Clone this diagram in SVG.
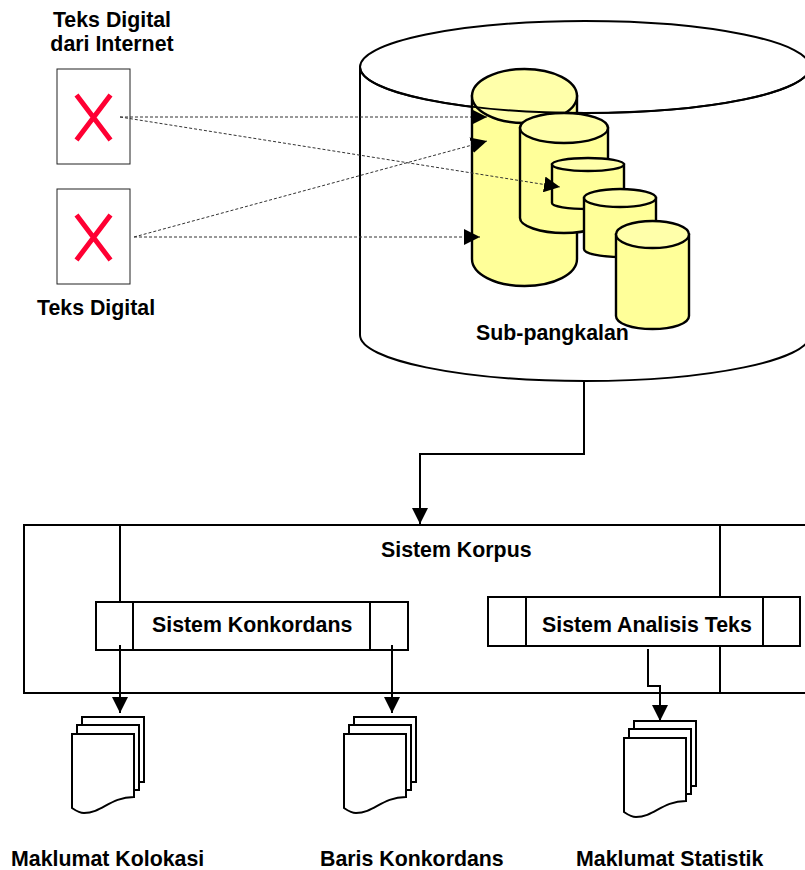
<svg xmlns="http://www.w3.org/2000/svg" width="805" height="870" viewBox="0 0 805 870">
<style>
text{font-family:"Liberation Sans",Arial,sans-serif;font-weight:700;font-size:21.33px;fill:#000}
.s{fill:none;stroke:#000;stroke-width:2}
.w{fill:#fff;stroke:#000;stroke-width:2}
.c{fill:#ffff99;stroke:#000;stroke-width:2.4}
.t{fill:#ffffaa;stroke:#000;stroke-width:2.4}
.d{fill:none;stroke:#333;stroke-width:1;stroke-dasharray:3 2}
.x{fill:none;stroke:#ff0033;stroke-width:5}
.l{fill:none;stroke:#000;stroke-width:2}
</style>
<defs>
<marker id="a" markerUnits="userSpaceOnUse" markerWidth="16" markerHeight="16" refX="16" refY="8" orient="auto"><path d="M0 0L16 8L0 16Z" fill="#000"/></marker>
<g id="stack">
<path class="w" d="M10 0H72V65H10Z" transform="translate(0,-17)"/>
<path class="w" d="M5 -9H67V56H5Z"/>
<path class="w" d="M0 0H62V63C38 63 30 79 12 79C7 79 3 76 0 74Z"/>
</g>
</defs>
<g id="database">
<path class="w" d="M360 67V335C360 360 461 381 585 381C709 381 810 360 810 335V67Z"/>
<ellipse class="w" cx="585" cy="67" rx="225" ry="46"/>
</g>
<g id="sub1">
<path class="c" d="M472 96V259C472 274 495 286 524.500 286C554 286 577 274 577 259V96Z"/>
<ellipse class="t" cx="524.500" cy="96" rx="52.500" ry="27"/>
</g>
<path id="rim" class="s" d="M360 67C360 92 461 113 585 113C709 113 810 92 810 67"/>
<g id="sub2">
<path class="c" d="M520 128V218C520 226 540 233 564 233C588 233 608 226 608 218V128Z"/>
<ellipse class="t" cx="564" cy="128" rx="44" ry="15"/>
</g>
<g id="sub3">
<path class="c" d="M552 164.500V203C552 206.500 568 209 588 209C608 209 624 206.500 624 203V164.500Z"/>
<ellipse class="t" cx="588" cy="164.500" rx="36" ry="6.500"/>
</g>
<g id="sub4">
<path class="c" d="M584 198V249C584 253.500 600 257 620 257C640 257 656 253.500 656 249V198Z"/>
<ellipse class="t" cx="620" cy="198" rx="36" ry="9"/>
</g>
<g id="sub5">
<path class="c" d="M616 234.500V316C616 323.500 632 329 652.500 329C673 329 689 323.500 689 316V234.500Z"/>
<ellipse class="t" cx="652.500" cy="234.500" rx="36.500" ry="13.500"/>
</g>
<g id="doc-internet">
<rect x="57" y="69" width="73" height="95" fill="#fff" stroke="#222" stroke-width="1"/>
<path class="x" d="M76.500 95L110.500 140M110.500 95L76.500 140"/>
</g>
<g id="doc-digital">
<rect x="57" y="189" width="73" height="95" fill="#fff" stroke="#222" stroke-width="1"/>
<path class="x" d="M76.500 215L110.500 260M110.500 215L76.500 260"/>
</g>
<g id="korpus"><rect class="w" x="24" y="525" width="790" height="168"/></g>
<g id="connectors">
<path class="d" d="M120 117H487" marker-end="url(#a)"/>
<path class="d" d="M120 117L560 187" marker-end="url(#a)"/>
<path class="d" d="M134 237L487 141" marker-end="url(#a)"/>
<path class="d" d="M134 237H480" marker-end="url(#a)"/>
<path class="l" d="M584 381V454H420V524" marker-end="url(#a)"/>
<path class="s" d="M120 525V602M720 525V693"/>
</g>
<g id="konkordans">
<rect class="w" x="96" y="602" width="312" height="48"/>
<path class="s" d="M133 602V650M370 602V650"/>
<text x="152" y="632">Sistem Konkordans</text>
</g>
<g id="analisis">
<rect class="w" x="488" y="597" width="312" height="49"/>
<path class="s" d="M526 597V646M763 597V646"/>
<text x="542" y="632">Sistem Analisis Teks</text>
</g>
<g id="connectors-2">
<path class="l" d="M120 645V713" marker-end="url(#a)"/>
<path class="l" d="M392 645V713" marker-end="url(#a)"/>
<path class="l" d="M648 649V686H660V721" marker-end="url(#a)"/>
</g>
<use id="stack-kolokasi" href="#stack" x="72" y="734"/>
<use id="stack-baris" href="#stack" x="344" y="734"/>
<use id="stack-statistik" href="#stack" x="624" y="738"/>
<g id="labels">
<text x="112" y="27" text-anchor="middle">Teks Digital</text>
<text x="112" y="51" text-anchor="middle">dari Internet</text>
<text x="37" y="315">Teks Digital</text>
<text x="476" y="340">Sub-pangkalan</text>
<text x="381" y="557">Sistem Korpus</text>
<text x="11" y="866">Maklumat Kolokasi</text>
<text x="320" y="866">Baris Konkordans</text>
<text x="576" y="866">Maklumat Statistik</text>
</g>
</svg>
